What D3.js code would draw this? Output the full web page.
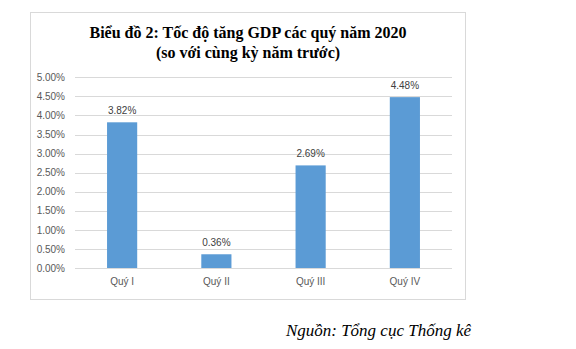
<!DOCTYPE html>
<html><head><meta charset="utf-8">
<script src="https://cdn.jsdelivr.net/npm/d3@7"></script>
<style>body{margin:0;background:#fff}svg{display:block}</style>
</head><body>
<script>
const categories = ["Quý I", "Quý II", "Quý III", "Quý IV"];
const values = [3.82, 0.36, 2.69, 4.48];
const yTicks = [0, 0.5, 1, 1.5, 2, 2.5, 3, 3.5, 4, 4.5, 5];
const titleLines = ["Biểu đồ 2: Tốc độ tăng GDP các quý năm 2020", "(so với cùng kỳ năm trước)"];
const sourceText = "Nguồn: Tổng cục Thống kê";

const W = 576, H = 349;
const svg = d3.select("body").append("svg").attr("width", W).attr("height", H);
svg.append("rect").attr("width", W).attr("height", H).attr("fill", "#fff");

// chart frame
svg.append("rect").attr("x", 30.5).attr("y", 12.5).attr("width", 435).attr("height", 287)
  .attr("fill", "#fff").attr("stroke", "#D9D9D9").attr("stroke-width", 1);

const x = d3.scaleBand().domain(categories).range([75, 452]).paddingInner(0.68).paddingOuter(0.34);
const y = d3.scaleLinear().domain([0, 5]).range([268, 77.3]);

// gridlines
svg.append("g").selectAll("line").data(yTicks).join("line")
  .attr("x1", 75).attr("x2", 452)
  .attr("y1", d => Math.round(y(d)) + 0.5).attr("y2", d => Math.round(y(d)) + 0.5)
  .attr("stroke", "#D9D9D9").attr("stroke-width", 1);

// y axis labels
const yAxis = d3.axisLeft(y).tickValues(yTicks).tickSize(0).tickPadding(0)
  .tickFormat(d => d.toFixed(2) + "%");
const gy = svg.append("g").attr("transform", "translate(65,0)").call(yAxis);
gy.select(".domain").remove();
gy.selectAll("text").attr("fill", "#595959").style("font-family", "Liberation Sans, Arial, sans-serif").style("font-size", "10px");

// bars
svg.append("g").selectAll("rect").data(values).join("rect")
  .attr("x", (d, i) => x(categories[i])).attr("width", x.bandwidth())
  .attr("y", d => y(d)).attr("height", d => y(0) - y(d))
  .attr("fill", "#5B9BD5");

// data labels
svg.append("g").selectAll("text").data(values).join("text")
  .attr("x", (d, i) => x(categories[i]) + x.bandwidth() / 2)
  .attr("y", d => y(d) - 8)
  .attr("text-anchor", "middle").attr("fill", "#404040")
  .style("font-family", "Liberation Sans, Arial, sans-serif").style("font-size", "10px")
  .text(d => d.toFixed(2) + "%");

// x axis labels
const xAxis = d3.axisBottom(x).tickSize(0).tickPadding(0);
const gx = svg.append("g").attr("transform", "translate(0,278)").call(xAxis);
gx.select(".domain").remove();
gx.selectAll("text").attr("fill", "#595959").style("font-family", "Liberation Sans, Arial, sans-serif").style("font-size", "10px");

// title
svg.append("g").selectAll("text").data(titleLines).join("text")
  .attr("x", 248).attr("y", (d, i) => 38 + i * 19.5)
  .attr("text-anchor", "middle").attr("fill", "#000")
  .style("font-family", "Liberation Serif, Times New Roman, serif").style("font-weight", "bold").style("font-size", "16px")
  .text(d => d);

// source
svg.append("text").attr("x", 471).attr("y", 336).attr("text-anchor", "end")
  .style("font-family", "Liberation Serif, Times New Roman, serif").style("font-style", "italic").style("font-size", "17px")
  .attr("fill", "#000").text(sourceText);
</script>
</body></html>
